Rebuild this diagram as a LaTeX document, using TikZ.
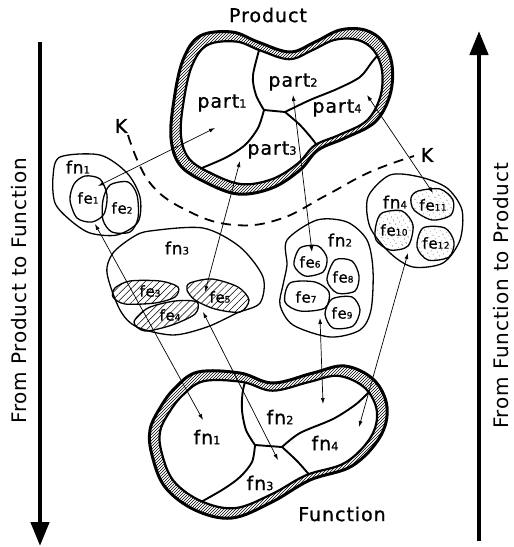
\documentclass[tikz,border=0pt]{standalone}
\usepackage{fontspec}
\setmainfont{DejaVu Sans}
\newfontfamily\sidefont[LetterSpace=4]{DejaVu Sans}
\newfontfamily\labfont[LetterSpace=5,FakeBold=1]{DejaVu Sans}
\usepackage{tikz}
\usetikzlibrary{arrows.meta,patterns,patterns.meta}
\newcommand\ix[1]{\scalebox{.6}{#1}}
\newcommand\prodshape{plot[smooth cycle,tension=.6] coordinates {(200,36) (232,32) (258,42) (290,52) (315,42) (340,30) (365,30) (383,42) (392,65) (390,95) (375,122) (345,138) (318,150) (300,170) (272,188) (238,194) (205,182) (180,165) (171,138) (174,100) (183,60)}}
\newcommand\funcshape{plot[smooth cycle,tension=.6] coordinates {(175,388) (198,372) (240,373) (273,383) (313,373) (345,366) (374,380) (387,407) (380,437) (352,466) (310,480) (272,502) (232,518) (195,510) (165,487) (152,455) (150,430) (160,408)}}

\begin{document}
\begin{tikzpicture}[x=1pt,y=-1pt,
  lbl/.style={font=\labfont\fontsize{19}{19}\selectfont, inner sep=0pt},
  fnlbl/.style={font=\labfont\fontsize{17}{17}\selectfont, inner sep=0pt},
  felbl/.style={font=\labfont\fontsize{15}{15}\selectfont, inner sep=0pt},
  side/.style={font=\sidefont\fontsize{20}{20}\selectfont, rotate=90, inner sep=0pt},
  rimfill/.style={pattern=north east lines},
  rimout/.style={line width=3pt, line join=round},
  rimin/.style={line width=2.2pt, line join=round},
  seam/.style={line width=1.9pt},
  blob/.style={line width=1.3pt},
  hatchfill/.style={pattern={Lines[angle=45,distance=5pt,line width=.5pt]}},
  dotfill/.style={pattern={Dots[angle=30,distance=4pt,radius=.45pt]}},
  kline/.style={line width=1.8pt, dash pattern=on 10pt off 7pt},
  arr/.style={{Latex[length=6pt,width=4pt]}-{Latex[length=6pt,width=4pt]}, line width=.7pt},
  big/.style={-{Triangle[length=24pt,width=18pt]}, line width=4.5pt},
  prodin/.style={shift={(281,112)}, xscale=.91, yscale=.88, shift={(-281,-112)}},
  funcin/.style={shift={(268,442)}, xscale=.915, yscale=.87, shift={(-268,-442)}},
]
\useasboundingbox (0,0) rectangle (514,547);

\fill[rimfill] \prodshape;
\fill[white, prodin] \prodshape;
\begin{scope}
  \clip[prodin] \prodshape;
  \draw[seam] plot[smooth] coordinates {(262,40) (253,75) (256,95) (264,110)};
  \draw[seam] plot[smooth] coordinates {(264,110) (258,128) (245,145) (225,158) (192,172)};
  \draw[seam] (264,110) -- (285,112);
  \draw[seam] plot[smooth] coordinates {(285,112) (310,100) (337,89) (360,77) (372,62) (382,50)};
  \draw[seam] plot[smooth] coordinates {(285,112) (300,125) (313,140) (322,153)};
\end{scope}
\draw[rimin, prodin] \prodshape;
\draw[rimout] \prodshape;

\fill[rimfill] \funcshape;
\fill[white, funcin] \funcshape;
\begin{scope}
  \clip[funcin] \funcshape;
  \draw[seam] plot[smooth] coordinates {(250,366) (243,390) (242,410) (246,430) (255,445)};
  \draw[seam] plot[smooth] coordinates {(255,445) (252,462) (240,477) (222,490) (192,507)};
  \draw[seam] (255,445) -- (282,447);
  \draw[seam] plot[smooth] coordinates {(282,447) (300,433) (333,419) (355,405) (368,393) (380,381)};
  \draw[seam] plot[smooth] coordinates {(282,447) (298,462) (318,485)};
\end{scope}
\draw[rimin, funcin] \funcshape;
\draw[rimout] \funcshape;

\draw[blob] plot[smooth cycle] coordinates {(60,157) (100,155) (127,173) (140,197) (138,222) (117,235) (90,233) (70,220) (55,203) (53,177)};
\draw[blob] plot[smooth cycle] coordinates {(85,176) (100,179) (107,195) (104,214) (92,222) (77,218) (70,200) (74,184)};
\draw[blob] plot[smooth cycle] coordinates {(110,185) (128,182) (137,195) (138,218) (130,232) (112,232) (103,220) (103,200)};

\draw[blob] plot[smooth cycle] coordinates {(150,231) (203,228) (240,247) (263,277) (260,303) (237,313) (207,327) (173,335) (137,327) (120,310) (107,273) (113,253) (133,237)};
\draw[blob, hatchfill] plot[smooth cycle] coordinates {(115,288) (130,281) (160,281) (178,287) (175,297) (155,303) (125,304) (113,297)};
\draw[blob, hatchfill] plot[smooth cycle] coordinates {(190,283) (212,279) (238,287) (249,300) (240,312) (215,309) (195,300) (187,290)};
\draw[blob, hatchfill] plot[smooth cycle] coordinates {(134,322) (148,308) (175,301) (197,302) (195,314) (172,325) (145,331)};

\draw[blob] plot[smooth cycle] coordinates {(287,240) (317,220) (347,222) (367,240) (373,270) (371,310) (360,330) (330,337) (293,325) (280,305) (283,285) (287,265)};
\draw[blob] plot[smooth cycle] coordinates {(300,248) (318,246) (327,258) (323,272) (305,276) (294,265)};
\draw[blob] plot[smooth cycle] coordinates {(335,260) (352,261) (359,276) (355,291) (337,293) (327,280)};
\draw[blob] plot[smooth cycle] coordinates {(290,283) (315,282) (329,292) (325,308) (300,311) (285,302)};
\draw[blob] plot[smooth cycle] coordinates {(332,299) (352,297) (360,310) (353,326) (333,328) (325,314)};

\draw[blob] plot[smooth cycle] coordinates {(390,175) (420,177) (447,188) (462,210) (460,240) (443,263) (413,267) (390,253) (370,227) (368,197)};
\draw[blob, dotfill] plot[smooth cycle] coordinates {(418,191) (440,189) (453,200) (451,215) (432,220) (414,210) (411,198)};
\draw[blob, dotfill] plot[smooth cycle] coordinates {(382,213) (402,211) (413,225) (408,246) (390,250) (376,240) (376,225)};
\draw[blob, dotfill] plot[smooth cycle] coordinates {(423,228) (445,228) (454,242) (449,257) (428,260) (417,247)};

\draw[kline] plot[smooth, tension=.7] coordinates {(128,135) (150,183) (190,212) (235,225) (280,219) (325,196) (370,172) (414,156)};

\node[lbl] (product) at (268,15) {Product};
\node[lbl] (function) at (342,514) {Function};
\node[lbl] (kleft) at (121,126) {K};
\node[lbl] (kright) at (427,155) {K};
\node[lbl] (part1) at (222,103) {part\ix1};
\node[lbl] (part2) at (293,82) {part\ix2};
\node[lbl] (part3) at (272,150) {part\ix3};
\node[lbl] (part4) at (337,108) {part\ix4};
\node[lbl] (ffn1) at (207,437) {fn\ix1};
\node[lbl] (ffn2) at (280,417) {fn\ix2};
\node[lbl] (ffn3) at (260,483) {fn\ix3};
\node[lbl] (ffn4) at (325,443) {fn\ix4};

\node[fnlbl] (fn1) at (78,167) {fn\ix1};
\node[fnlbl] (fn2) at (340,240) {fn\ix2};
\node[fnlbl] (fn3) at (177,248) {fn\ix3};
\node[fnlbl] (fn4) at (395,202) {fn\ix4};
\node[felbl] (fe1) at (88,198) {fe\ix1};
\node[felbl] (fe2) at (122,208) {fe\ix2};
\node[felbl] (fe3) at (150,291) {fe\ix3};
\node[felbl] (fe4) at (170,315) {fe\ix4};
\node[felbl] (fe5) at (220,297) {fe\ix5};
\node[felbl] (fe6) at (310,262) {fe\ix6};
\node[felbl] (fe7) at (306,297) {fe\ix7};
\node[felbl] (fe8) at (343,277) {fe\ix8};
\node[felbl] (fe9) at (342,313) {fe\ix9};
\node[felbl] (fe10) at (394,230) {fe\ix{10}};
\node[felbl] (fe11) at (433,205) {fe\ix{11}};
\node[felbl] (fe12) at (436,243) {fe\ix{12}};

\node[side] (p2f) at (19,291) {From Product to Function};
\node[side] (f2p) at (501,296) {From Function to Product};

\coordinate (fe1up) at (98,186);
\coordinate (fe1dn) at (95,224);
\coordinate (fe5up) at (205,292);
\coordinate (fe5dn) at (203,312);
\coordinate (fe6up) at (312,252);
\coordinate (fe11up) at (433,193);
\coordinate (fn2dn) at (320,318);
\coordinate (fn4dn) at (408,253);
\coordinate (part1in) at (215,128);
\coordinate (part2in) at (293,95);
\coordinate (part3in) at (240,161);
\coordinate (part4in) at (367,95);
\coordinate (ffn1in) at (203,420);
\coordinate (ffn2in) at (323,404);
\coordinate (ffn3in) at (278,460);
\coordinate (ffn4in) at (359,427);

\draw[arr] (fe1up) -- (part1in);
\draw[arr] (fe1dn) -- (ffn1in);
\draw[arr] (fe5up) -- (part3in);
\draw[arr] (fe5dn) -- (ffn3in);
\draw[arr] (fe6up) -- (part2in);
\draw[arr] (fe11up) -- (part4in);
\draw[arr] (fn2dn) -- (ffn2in);
\draw[arr] (fn4dn) -- (ffn4in);

\coordinate (ltop) at (40,42);
\coordinate (lbot) at (40,546);
\coordinate (rbot) at (479,541);
\coordinate (rtop) at (479,31);
\draw[big] (ltop) -- (lbot);
\draw[big] (rbot) -- (rtop);
\end{tikzpicture}
\end{document}
